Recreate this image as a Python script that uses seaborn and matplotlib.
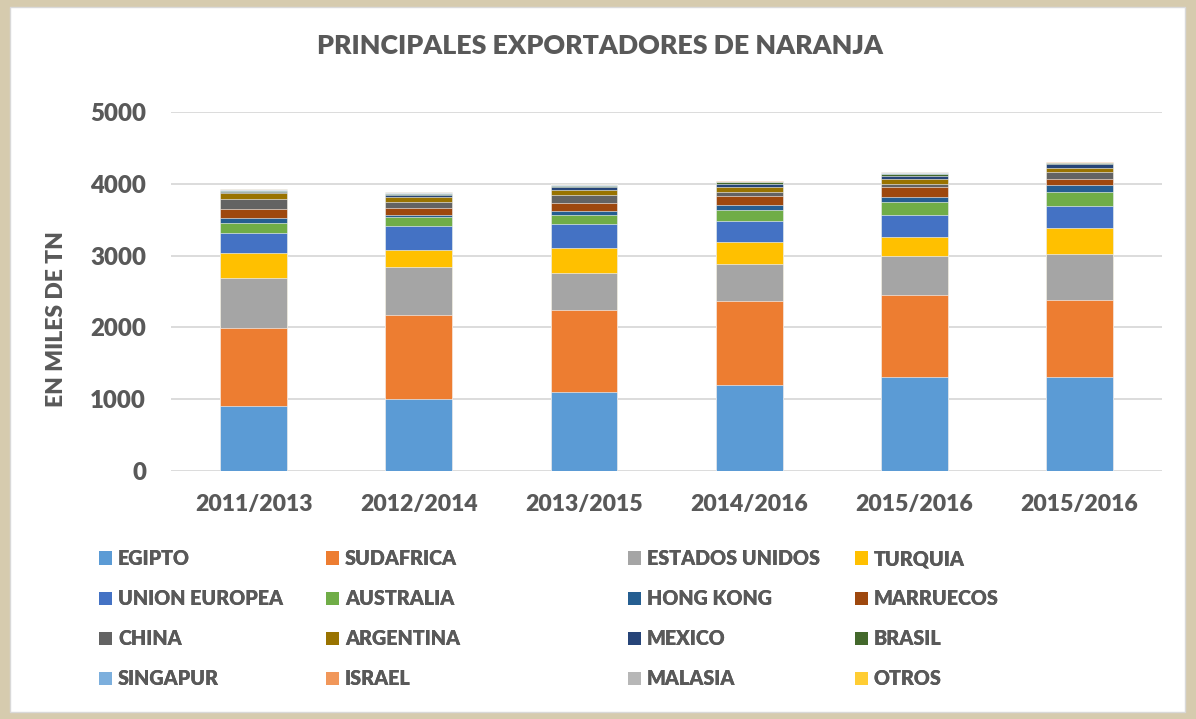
import numpy as np
import seaborn as sns
import matplotlib.pyplot as plt
from matplotlib.patches import Rectangle, Patch

# periodos (hay dos "2015/2016" en el original)
periodos = ["2011/2013", "2012/2014", "2013/2015", "2014/2016", "2015/2016", "2015/2016"]

# exportaciones en miles de TN
EGIPTO = [900, 1000, 1100, 1200, 1300, 1300]
SUDAFRICA = [1090, 1165, 1140, 1160, 1145, 1075]
ESTADOS_UNIDOS = [690, 675, 510, 515, 555, 650]
TURQUIA = [360, 240, 350, 310, 260, 360]
UNION_EUROPEA = [275, 325, 345, 290, 300, 305]
AUSTRALIA = [140, 125, 125, 160, 185, 195]
HONG_KONG = [70, 30, 50, 70, 70, 100]
MARRUECOS = [130, 100, 110, 130, 140, 88]
CHINA = [135, 85, 107, 50, 42, 84]
ARGENTINA = [80, 75, 79, 75, 75, 56]
MEXICO = [20, 28, 38, 42, 42, 56]
BRASIL = [12, 10, 19, 24, 28, 23]
SINGAPUR = [6, 7, 7, 5, 6, 4]
ISRAEL = [6, 7, 6, 4, 6, 3]
MALASIA = [7, 7, 6, 5, 6, 3]
OTROS = [8, 8, 7, 5, 6, 4]

paises = ["EGIPTO", "SUDAFRICA", "ESTADOS UNIDOS", "TURQUIA", "UNION EUROPEA",
          "AUSTRALIA", "HONG KONG", "MARRUECOS", "CHINA", "ARGENTINA", "MEXICO",
          "BRASIL", "SINGAPUR", "ISRAEL", "MALASIA", "OTROS"]
series = [EGIPTO, SUDAFRICA, ESTADOS_UNIDOS, TURQUIA, UNION_EUROPEA, AUSTRALIA,
          HONG_KONG, MARRUECOS, CHINA, ARGENTINA, MEXICO, BRASIL, SINGAPUR,
          ISRAEL, MALASIA, OTROS]
colores = ["#5B9BD5", "#ED7D31", "#A5A5A5", "#FFC000", "#4472C4", "#70AD47",
           "#255E91", "#9E480E", "#636363", "#997300", "#264478", "#43682B",
           "#7CAFDD", "#F1975A", "#B7B7B7", "#FFCD33"]

sns.set_theme(style="white")
plt.rcParams["font.family"] = ["Lato", "DejaVu Sans"]
peso = "heavy"
plt.rcParams["font.weight"] = peso
gris = "#595959"

fig = plt.figure(figsize=(11.96, 7.19), dpi=100, facecolor="#D6CBAE")
fig.patches.append(Rectangle((0.0084, 0.0097), 0.982, 0.9805, transform=fig.transFigure,
                             facecolor="white", edgecolor="#D9D9D9", lw=1, zorder=-5))
ax = fig.add_axes([0.143, 0.3453, 0.8286, 0.4989])
ax.set_facecolor("white")
ax.set_zorder(1)

# barras apiladas: se dibujan los acumulados de arriba hacia abajo
acum = np.cumsum(np.array(series), axis=0)
pos = list(range(len(periodos)))
for i in reversed(range(len(series))):
    sns.barplot(x=pos, y=acum[i], color=colores[i], saturation=1, width=0.405,
                errorbar=None, ax=ax, edgecolor="white", linewidth=0.4)

ax.set_ylim(0, 5000)
ax.set_yticks(range(0, 5001, 1000))
ax.yaxis.grid(True, color="#D9D9D9", lw=1.3)
ax.set_axisbelow(True)
sns.despine(ax=ax, left=True, bottom=True)
ax.set_xticks(pos)
ax.set_xticklabels(periodos)
ax.tick_params(axis="y", length=0, pad=18, labelsize=17.3, labelcolor=gris)
ax.tick_params(axis="x", length=0, pad=17, labelsize=16.6, labelcolor=gris)
for t in ax.get_xticklabels() + ax.get_yticklabels():
    t.set_fontweight(peso)
ax.set_xlabel("")
ax.set_ylabel("")

fig.text(0.5017, 0.936, "PRINCIPALES EXPORTADORES DE NARANJA", ha="center", va="center",
         fontsize=19.3, fontweight=peso, color=gris)
fig.text(57 / 1196, 1 - 319 / 719, "EN MILES DE TN", rotation=90, ha="center", va="center",
         fontsize=16.5, fontweight=peso, color=gris)

# leyenda en 4 columnas, llenada por filas como en Excel
handles = [Patch(facecolor=c, edgecolor="none") for c in colores]
col_x = [99, 326, 628, 855]
for c in range(4):
    idx = [c + 4 * r for r in range(4)]
    leg = fig.legend([handles[k] for k in idx], [paises[k] for k in idx],
                     loc="upper left", bbox_to_anchor=(col_x[c] / 1196, 1 - 549 / 719),
                     frameon=False, borderpad=0, borderaxespad=0, handlelength=0.66,
                     handleheight=0.66, handletextpad=0.3, labelspacing=1.07,
                     prop={"size": 14.2, "weight": peso}, labelcolor=gris)
    fig.add_artist(leg)

fig.savefig("out.png", dpi=100, facecolor=fig.get_facecolor())
